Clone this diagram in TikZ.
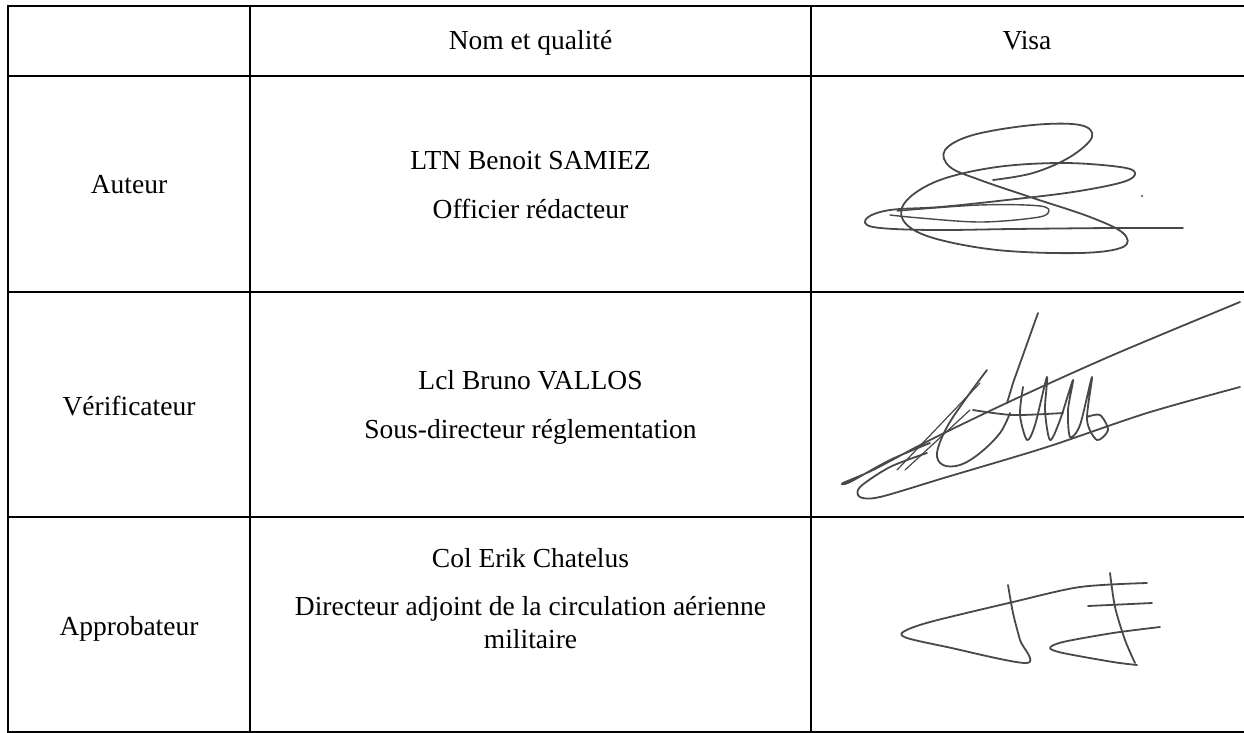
\documentclass[tikz,border=0pt]{standalone}
\usepackage{fontspec}
\setmainfont{Liberation Serif}
\usetikzlibrary{positioning}

\definecolor{ink}{RGB}{72,72,72}

\begin{document}
\begin{tikzpicture}
[
    x = 1pt, y = -1pt,
    every node/.style = {inner sep = 0pt, anchor = base, font = \fontsize{27.5}{33}\selectfont},
    GridLine/.style = {line width = 2pt, black},
    SignStyle/.style = {ink, line width = 1.8pt, line cap = round, line join = round}
  ]

  \useasboundingbox (0,0) rectangle (1244,733);

  % table grid
  \draw[GridLine] (7,6) -- (1244,6);
  \draw[GridLine] (7,76) -- (1244,76);
  \draw[GridLine] (7,292) -- (1244,292);
  \draw[GridLine] (7,517) -- (1244,517);
  \draw[GridLine] (7,732) -- (1244,732);
  \draw[GridLine] (8,5) -- (8,733);
  \draw[GridLine] (250,5) -- (250,733);
  \draw[GridLine] (811,5) -- (811,733);

  % header
  \node (head2) at (530.5,50) {Nom et qualité};
  \node (head3) at (1027,50) {Visa};

  % rows
  \node (role1) at (129,193) {Auteur};
  \node (name1) at (530.5,169) {LTN Benoit SAMIEZ};
  \node (qual1) at (530.5,218) {Officier rédacteur};

  \node (role2) at (129,415) {Vérificateur};
  \node (name2) at (530.5,389) {Lcl Bruno VALLOS};
  \node (qual2) at (530.5,438) {Sous-directeur réglementation};

  \node (role3) at (129,635) {Approbateur};
  \node (name3) at (530.5,567) {Col Erik Chatelus};
  \node (qual3) at (530.5,615) {Directeur adjoint de la circulation aérienne};
  \node (qual3b) at (530.5,648) {militaire};

  % visa 1
  \draw[SignStyle] plot[smooth, tension=0.6] coordinates {
    (993,180) (1033,173) (1070,157) (1092,137) (1080,125) (1033,125) (973,135)
    (945,150) (950,167) (980,180) (1033,198) (1090,217) (1123,233) (1123,247)
    (1080,253) (997,250) (930,237) (903,220) (907,200) (940,180) (997,167)
    (1063,163) (1120,167) (1135,173) (1123,182) (1073,192) (1007,200) (940,207)
    (890,210) (867,218) (873,227) (930,230) (1013,229) (1113,228) (1183,228)};
  \draw[SignStyle, line width = 1.4pt] plot[smooth, tension=0.6] coordinates {
    (897,211) (980,205) (1040,206) (1048,213) (1033,218) (980,222) (920,218) (890,215)};
  \fill[ink] (1142,196) circle (1.2);

  % visa 2
  \draw[SignStyle] plot[smooth, tension=0.5] coordinates {
    (1240,302) (1113,355) (1013,400) (930,440) (873,470) (843,483) (850,482) (890,460) (930,443)};
  \draw[SignStyle] plot[smooth, tension=0.5] coordinates {
    (1240,387) (1147,413) (1047,447) (947,477) (880,497) (860,497) (860,487) (890,467) (927,453)};
  \draw[SignStyle] (1038,313) -- (1013,383) -- (1007,403);
  \draw[SignStyle] plot[smooth, tension=0.6] coordinates {
    (987,370) (967,397) (947,427) (937,453) (943,465) (960,465) (980,453) (1000,433) (1010,413)};
  \draw[SignStyle] plot[smooth, tension=0.5] coordinates {
    (973,410) (1013,415) (1063,413)};
  \draw[SignStyle] plot[smooth, tension=0.5] coordinates {
    (1023,387) (1020,415) (1027,440) (1035,425) (1047,377) (1045,410) (1050,440) (1060,420)
    (1073,380) (1068,410) (1070,437) (1080,425) (1092,377) (1087,420) (1097,440)
    (1108,430) (1100,415) (1087,417)};
  \draw[SignStyle, line width = 1.2pt] (897,470) -- (980,383);
  \draw[SignStyle, line width = 1.2pt] (905,470) -- (970,410);

  % visa 3
  \draw[SignStyle] plot[smooth, tension=0.5] coordinates {
    (1147,583) (1080,587) (1013,602) (930,622) (903,632) (907,638) (947,647)
    (1027,663) (1020,640) (1013,613) (1008,585)};
  \draw[SignStyle] plot[smooth, tension=0.5] coordinates {
    (1110,573) (1115,607) (1125,640) (1135,663)};
  \draw[SignStyle] plot[smooth, tension=0.5] coordinates {
    (1160,627) (1113,633) (1063,642) (1050,648) (1063,653) (1113,662) (1137,665)};
  \draw[SignStyle] (1088,606) -- (1152,603);

\end{tikzpicture}
\end{document}
